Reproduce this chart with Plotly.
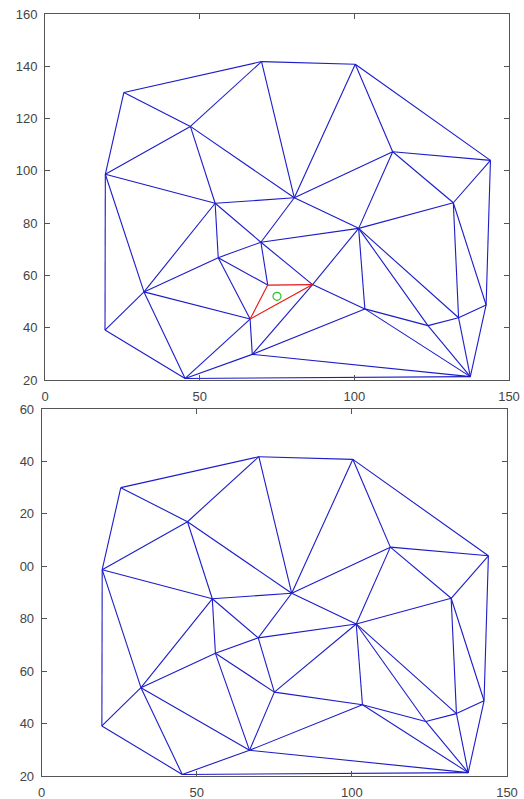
import plotly.graph_objects as go

# ---- vertex data ----
vertex_names = ["A", "B", "C", "D", "E", "F", "G", "H", "I", "J", "K", "L", "M",
                "N", "O", "P", "Q", "R", "S", "T", "U", "V", "W", "X", "Y", "Z"]
vertex_x = [25.5, 47.0, 70.0, 19.5, 100.3, 112.4, 144.0, 80.6, 55.0, 69.8, 56.0, 32.0, 19.4,
            66.3, 67.0, 45.3, 132.0, 101.4, 86.5, 72.0, 103.4, 123.8, 133.7, 142.6, 137.5, 75.0]
vertex_y = [130.0, 117.0, 141.8, 98.7, 140.8, 107.3, 104.0, 89.7, 87.6, 72.7, 66.8, 53.7, 39.1,
            43.3, 29.8, 20.6, 87.8, 78.0, 56.5, 56.3, 47.2, 40.8, 43.8, 48.7, 21.3, 52.0]

# common edges (both triangulations)
common_edges = ["AB", "AC", "AD", "BC", "BD", "BH", "BI", "CE", "CH", "DI", "DL", "DM",
                "EF", "EG", "EH", "FG", "FH", "FQ", "FR", "GQ", "GX", "HI", "HJ", "HR",
                "IJ", "IK", "IL", "JK", "JR", "KL", "LM", "LP", "MP", "OP", "OU", "OY",
                "PY", "QR", "QW", "QX", "RU", "RV", "RW", "UV", "UY", "VW", "VY", "WX",
                "WY", "XY"]
# edges only in the top (before insertion)
top_only_edges = ["JS", "JT", "KN", "KT", "LN", "NO", "NP", "OS", "RS", "SU"]
# enclosing triangle (red)
red_edges = ["TS", "TN", "NS"]
# edges only in the bottom (after insertion of Z)
bottom_only_edges = ["JZ", "KZ", "KO", "RZ", "UZ", "OZ", "LO"]

query_x = [75.0]
query_y = [52.0]

x_ticks = [0, 50, 100, 150]
y_ticks = [20, 40, 60, 80, 100, 120, 140, 160]
y_ticks_top_text = ["20", "40", "60", "80", "100", "120", "140", "160"]
y_ticks_bottom_text = ["20", "40", "60", "80", "00", "20", "40", "60"]

idx = {n: i for i, n in enumerate(vertex_names)}


def seg_coords(edges):
    xs, ys = [], []
    for e in edges:
        a, b = idx[e[0]], idx[e[1]]
        xs += [vertex_x[a], vertex_x[b], None]
        ys += [vertex_y[a], vertex_y[b], None]
    return xs, ys


BLUE = "rgb(28,28,200)"
fig = go.Figure()

tx, ty = seg_coords(common_edges + top_only_edges)
fig.add_trace(go.Scatter(x=tx, y=ty, mode="lines", line=dict(color=BLUE, width=1.1),
                         xaxis="x", yaxis="y", hoverinfo="skip", showlegend=False))
rx, ry = seg_coords(red_edges)
fig.add_trace(go.Scatter(x=rx, y=ry, mode="lines", line=dict(color="rgb(235,20,20)", width=1.1),
                         xaxis="x", yaxis="y", hoverinfo="skip", showlegend=False))
fig.add_trace(go.Scatter(x=query_x, y=query_y, mode="markers",
                         marker=dict(symbol="circle-open", size=8, color="rgb(40,200,40)",
                                     line=dict(width=1.2, color="rgb(40,200,40)")),
                         xaxis="x", yaxis="y", hoverinfo="skip", showlegend=False))

bx, by = seg_coords(common_edges + bottom_only_edges)
fig.add_trace(go.Scatter(x=bx, y=by, mode="lines", line=dict(color=BLUE, width=1.1),
                         xaxis="x2", yaxis="y2", hoverinfo="skip", showlegend=False))

W, H = 524, 799
AX = "#555555"
font = dict(family="Liberation Sans, Arial, sans-serif", size=13, color="#444444")


def px_x(v):
    return v / W


def px_y(v):
    return (H - v) / H


def xaxis(domain, anchor):
    return dict(domain=domain, anchor=anchor, range=[0, 150], tickvals=x_ticks,
                ticktext=[str(v) for v in x_ticks], ticks="inside", ticklen=5,
                tickcolor=AX, showline=True, linecolor=AX, linewidth=1, mirror="ticks",
                showgrid=False, zeroline=False, tickfont=font, ticklabelstandoff=4,
                automargin=False)


def yaxis(domain, anchor, text):
    return dict(domain=domain, anchor=anchor, range=[20, 160], tickvals=y_ticks,
                ticktext=text, ticks="inside", ticklen=5, tickcolor=AX,
                showline=True, linecolor=AX, linewidth=1, mirror="ticks",
                showgrid=False, zeroline=False, tickfont=font, ticklabelstandoff=4,
                automargin=False)


fig.update_layout(
    width=W, height=H,
    margin=dict(l=0, r=0, t=0, b=0),
    paper_bgcolor="white", plot_bgcolor="white",
    hovermode=False,
    xaxis=xaxis([px_x(45), px_x(509)], "y"),
    yaxis=yaxis([px_y(380), px_y(14)], "x", y_ticks_top_text),
    xaxis2=xaxis([px_x(41.7), px_x(507)], "y2"),
    yaxis2=yaxis([px_y(776), px_y(409)], "x2", y_ticks_bottom_text),
)

fig.write_html(
    "out.html",
    config={"displayModeBar": False, "staticPlot": True},
    post_script="document.body.style.margin='0';"
                "document.documentElement.style.overflow='hidden';",
)
